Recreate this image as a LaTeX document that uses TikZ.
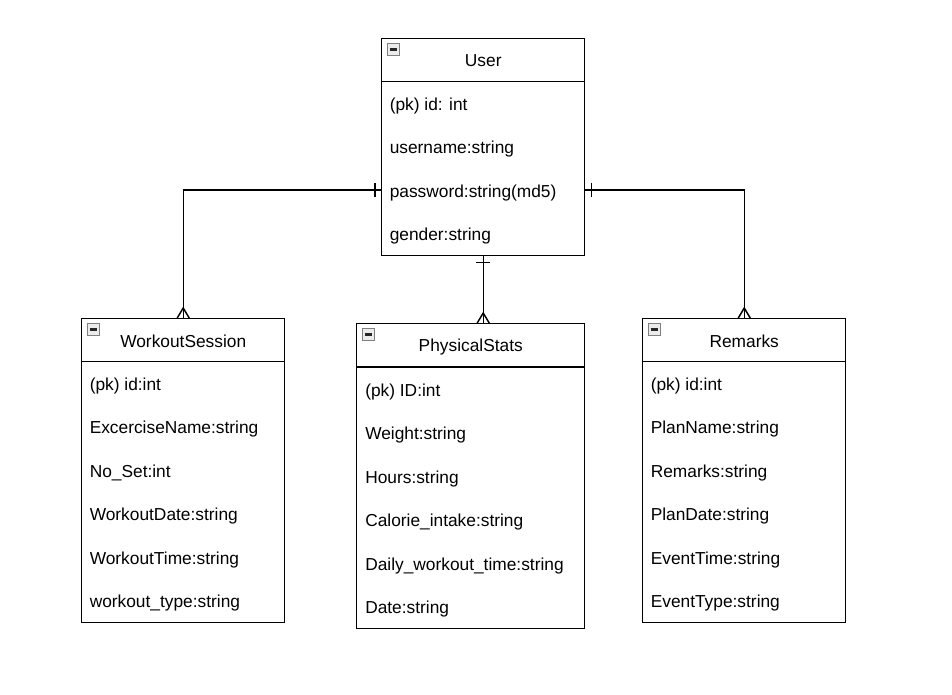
\documentclass[tikz,border=0pt]{standalone}
\usepackage{fontspec}
\setmainfont{Liberation Sans}
\usetikzlibrary{positioning, calc}

\tikzset{
  entity/.style = { draw, line width = 1.1pt, anchor = north west, inner sep = 0 },
  entitytitle/.style = { inner sep = 0, font = \fontsize{13}{15}\selectfont },
  field/.style = { anchor = west, inner sep = 0, font = \fontsize{13}{15}\selectfont },
  rel/.style = { line width = 1.1pt },
  collapse/.style = { draw = gray, fill = gray!15, line width = .7pt, minimum size = 8.5pt, inner sep = 0,
    path picture = { \draw [line width = 1.6pt, black!85]
      ([xshift = 1.3pt]path picture bounding box.west) -- ([xshift = -1.3pt]path picture bounding box.east); } },
  crowsfoot/.pic = { \draw [rel] (-6,0) -- (0,-10) -- (6,0); },
  onebar/.pic = { \draw [rel] (-7,0) -- (7,0); }
}

\begin{document}
\begin{tikzpicture}[x = 0.75pt, y = -0.75pt]
  \useasboundingbox (0,0) rectangle (952,695);

  % User
  \node [entity, minimum width = 152.25pt, minimum height = 162.75pt] (user) at (381,38) {};
  \draw [rel] ($(user.north west)+(0,43.5)$) -- ($(user.north east)+(0,43.5)$);
  \node [collapse] at ($(user.north west)+(12.5,11.5)$) {};
  \node [entitytitle] (user-title) at ($(user.north)+(0,23)$) {User};
  \foreach \f [count = \i] in {{(pk) id: int}, username:string, password:string(md5), gender:string}
    \node [field] (user-\i) at ($(user.north west)+(8.5,{68+43.5*(\i-1)})$) {\f};

  % WorkoutSession
  \node [entity, minimum width = 152.25pt, minimum height = 228pt] (session) at (81,318) {};
  \draw [rel] ($(session.north west)+(0,43.5)$) -- ($(session.north east)+(0,43.5)$);
  \node [collapse] at ($(session.north west)+(12.5,11.5)$) {};
  \node [entitytitle] (session-title) at ($(session.north)+(0,23)$) {WorkoutSession};
  \foreach \f [count = \i] in {{(pk) id:int}, ExcerciseName:string, No\_Set:int, WorkoutDate:string, WorkoutTime:string, workout\_type:string}
    \node [field] (session-\i) at ($(session.north west)+(8.5,{68+43.5*(\i-1)})$) {\f};

  % PhysicalStats
  \node [entity, minimum width = 171pt, minimum height = 228.75pt] (stats) at (356,323) {};
  \draw [rel] ($(stats.north west)+(0,44)$) -- ($(stats.north east)+(0,44)$);
  \node [collapse] at ($(stats.north west)+(12.5,11.5)$) {};
  \node [entitytitle] (stats-title) at ($(stats.north)+(0,24)$) {PhysicalStats};
  \foreach \f [count = \i] in {{(pk) ID:int}, Weight:string, Hours:string, Calorie\_intake:string, Daily\_workout\_time:string, Date:string}
    \node [field] (stats-\i) at ($(stats.north west)+(9,{69+43.5*(\i-1)})$) {\f};

  % Remarks
  \node [entity, minimum width = 152.25pt, minimum height = 228pt] (remarks) at (642,318) {};
  \draw [rel] ($(remarks.north west)+(0,43.5)$) -- ($(remarks.north east)+(0,43.5)$);
  \node [collapse] at ($(remarks.north west)+(12.5,11.5)$) {};
  \node [entitytitle] (remarks-title) at ($(remarks.north)+(0,23)$) {Remarks};
  \foreach \f [count = \i] in {{(pk) id:int}, PlanName:string, Remarks:string, PlanDate:string, EventTime:string, EventType:string}
    \node [field] (remarks-\i) at ($(remarks.north west)+(8.5,{68+43.5*(\i-1)})$) {\f};

  % relations
  \draw [rel] ($(user.west |- user-3)+(0,-3)$) -| (session.north);
  \draw [rel] ($(user.east |- user-3)+(0,-3)$) -| (remarks.north);
  \draw [rel] (user.south) -- (user.south |- stats.north);
  \pic [rotate = 90] at ($(user.west |- user-3)+(-6,-3)$) {onebar};
  \pic [rotate = 90] at ($(user.east |- user-3)+(6,-3)$) {onebar};
  \pic at ($(user.south)+(0,6)$) {onebar};
  \pic at (session.north) {crowsfoot};
  \pic at (remarks.north) {crowsfoot};
  \pic at (user.south |- stats.north) {crowsfoot};
\end{tikzpicture}
\end{document}
